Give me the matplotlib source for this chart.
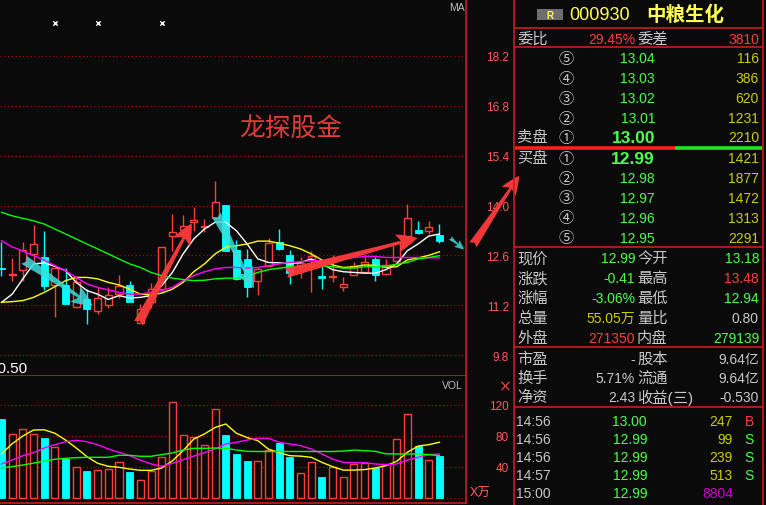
import numpy as np
import matplotlib.pyplot as plt
from matplotlib.patches import Rectangle, FancyArrowPatch

plt.rcParams['font.family'] = ['Liberation Sans', 'Noto Sans CJK SC', 'DejaVu Sans']

# ======================
# K线 (开 高 低 收)
# ======================
opens = [12.24, 12.04, 12.18, 12.63, 12.55, 11.77, 11.77, 11.14, 11.37, 11.05,
         11.21, 11.51, 11.77, 10.70, 11.28, 11.65, 13.14, 13.30, 13.55, 13.41,
         13.64, 14.01, 12.75, 12.50, 11.89, 12.29, 12.98, 12.61, 12.29, 12.48,
         12.03, 12.00, 11.72, 12.06, 12.14, 12.50, 12.08, 12.45, 13.14, 13.31,
         13.28, 13.18]
highs = [12.98, 12.52, 12.98, 13.45, 13.29, 12.24, 12.24, 12.03, 11.65, 11.70,
         11.70, 12.06, 11.89, 11.23, 11.82, 12.83, 13.76, 13.74, 13.95, 13.62,
         14.70, 14.01, 13.03, 12.78, 12.27, 13.08, 13.34, 12.75, 12.55, 12.73,
         12.29, 12.61, 11.98, 12.40, 12.64, 12.55, 12.50, 13.01, 14.04, 13.56,
         13.56, 13.48]
lows = [12.03, 11.89, 11.89, 12.40, 11.64, 10.86, 11.23, 11.14, 10.67, 10.96,
        11.11, 11.39, 11.30, 10.70, 11.11, 11.55, 12.73, 13.20, 13.29, 13.25,
        13.64, 12.73, 11.90, 11.42, 11.50, 12.29, 12.74, 11.80, 11.95, 11.58,
        11.65, 11.84, 11.61, 12.06, 12.14, 11.89, 12.06, 12.40, 13.14, 13.20,
        13.20, 12.94]
closes = [12.21, 12.08, 12.74, 12.91, 11.75, 12.24, 11.23, 11.86, 11.09, 11.40,
          11.49, 11.73, 11.30, 11.09, 11.65, 12.83, 13.27, 13.42, 13.59, 13.43,
          14.11, 12.73, 11.94, 11.70, 12.22, 12.95, 12.78, 12.10, 12.39, 12.57,
          11.96, 12.02, 11.80, 12.31, 12.40, 12.06, 12.34, 12.95, 13.64, 13.23,
          13.39, 12.99]

# 均线
ma5 = [11.28, 11.51, 11.94, 12.36, 12.39, 12.29, 12.17, 11.84, 11.61, 11.51,
       11.36, 11.47, 11.40, 11.42, 11.47, 11.75, 12.12, 12.64, 13.06, 13.34,
       13.53, 13.53, 13.29, 12.92, 12.50, 12.40, 12.39, 12.36, 12.40, 12.50,
       12.36, 12.20, 12.14, 12.12, 12.10, 12.10, 12.20, 12.36, 12.73, 12.92,
       13.14, 13.20]
ma10 = [11.28, 11.30, 11.33, 11.42, 11.56, 11.72, 11.89, 11.98, 11.98, 11.94,
        11.84, 11.77, 11.65, 11.51, 11.49, 11.54, 11.65, 11.84, 12.14, 12.36,
        12.64, 12.83, 12.87, 12.92, 13.00, 13.00, 12.94, 12.87, 12.78, 12.64,
        12.47, 12.33, 12.26, 12.28, 12.33, 12.32, 12.26, 12.28, 12.47, 12.53,
        12.60, 12.70]
ma20 = [13.01, 12.84, 12.72, 12.59, 12.47, 12.31, 12.17, 11.98, 11.80, 11.70,
        11.63, 11.56, 11.51, 11.51, 11.56, 11.61, 11.70, 11.89, 12.03, 12.14,
        12.22, 12.26, 12.26, 12.24, 12.26, 12.31, 12.36, 12.40, 12.42, 12.45,
        12.45, 12.45, 12.50, 12.54, 12.57, 12.57, 12.54, 12.54, 12.54, 12.54,
        12.53, 12.53]
ma60 = [13.81, 13.71, 13.64, 13.57, 13.48, 13.34, 13.20, 13.06, 12.92, 12.78,
        12.64, 12.50, 12.36, 12.26, 12.12, 12.03, 11.96, 11.92, 11.89, 11.90,
        11.94, 11.96, 11.96, 12.00, 12.12, 12.20, 12.24, 12.28, 12.28, 12.30,
        12.30, 12.28, 12.24, 12.24, 12.28, 12.28, 12.30, 12.35, 12.40, 12.50,
        12.54, 12.59]

# ======================
# 成交量 (万手)
# ======================
volumes = [102, 82, 88.6, 82, 77.4, 65.4, 50.3, 39.6, 34.8, 35.7,
           37, 46, 33.5, 22.8, 34.8, 52.5, 123.5, 80.9, 78.3, 68,
           114.4, 81.3, 56.8, 47.7, 47.3, 61.5, 71.4, 52.9, 32.3, 46,
           27.1, 40, 26.7, 43.9, 44.8, 38.7, 43.4, 75.7, 108, 67.5,
           48.6, 54.2]
vol_ma5 = [56.8, 70, 80, 87.7, 88, 83.5, 74.8, 64.5, 53.3, 44.8,
           40.9, 39.6, 37.4, 35.7, 35.7, 38.7, 48, 61, 76, 82.6,
           91, 95.5, 83.5, 78, 74, 63, 58.5, 54.6, 54, 52.5,
           46, 40.4, 36, 36, 36.7, 38.7, 41.7, 47.3, 59, 67,
           68.8, 71.9]
vol_ma10 = [43.9, 49, 54.6, 58.5, 64.5, 68.8, 72.6, 74.4, 72.6, 68.8,
            63.2, 59, 54.6, 49, 43.9, 40.9, 44.8, 49.4, 54, 58.5,
            63.2, 69.7, 71.9, 74.8, 77, 77, 71.9, 69.7, 67.5, 63.2,
            56.8, 50.3, 46, 45.6, 45.6, 43.9, 43, 43.9, 49, 52.5,
            55.9, 56.8]
vol_ma20 = [38.7, 40.5, 42.5, 45, 47.5, 50, 51.2, 52, 52.5, 52.5,
            52.5, 55.1, 55.1, 53.8, 53.8, 56, 58.1, 61.9, 64.1, 64.1,
            64.5, 64, 61.9, 60.2, 60, 60, 60, 60, 60, 60,
            60, 60, 60.5, 61.9, 61, 60.2, 57, 56.8, 56.8, 56.8,
            55.9, 54.6]

price_ticks = [9.8, 11.2, 12.6, 14.0, 15.4, 16.8, 18.2]
vol_ticks = [0, 40, 80, 120]

# 标记 / 箭头 (K线序号, 价格)
mark_idx = [5, 9, 15]
mark_price = 19.13
red_arrows = [((12.69, 10.62), (17.93, 13.57), 20),
              ((26.39, 12.08), (39.19, 13.11), 20),
              ((44.0, 12.83), (48.6, 14.90), 18)]
cyan_arrows = [((1.89, 12.52), (8.75, 11.14), 20),
               ((19.99, 13.81), (23.74, 11.61), 20),
               ((41.8, 13.14), (43.49, 12.72), 9)]

# ======================
# 盘口数据
# ======================
stock_code = '000930'
stock_name = '中粮生化'
wb_ratio = '29.45%'
wb_diff = '3810'
circled = ['⑤', '④', '③', '②', '①']
ask_prices = ['13.04', '13.03', '13.02', '13.01', '13.00']
ask_vols = ['116', '386', '620', '1231', '2210']
bid_prices = ['12.99', '12.98', '12.97', '12.96', '12.95']
bid_vols = ['1421', '1877', '1472', '1313', '2291']

quote_l_names = ['现价', '涨跌', '涨幅', '总量', '外盘']
quote_l_vals = ['12.99', '-0.41', '-3.06%', '55.05万', '271350']
quote_r_names = ['今开', '最高', '最低', '量比', '内盘']
quote_r_vals = ['13.18', '13.48', '12.94', '0.80', '279139']

fund_l_names = ['市盈', '换手', '净资']
fund_l_vals = ['-', '5.71%', '2.43']
fund_r_names = ['股本', '流通', '收益(三)']
fund_r_vals = ['9.64亿', '9.64亿', '-0.530']

tick_times = ['14:56', '14:56', '14:56', '14:57', '15:00']
tick_prices = ['13.00', '12.99', '12.99', '12.99', '12.99']
tick_vols = ['247', '99', '239', '513', '8804']
tick_flags = ['B', 'S', 'S', 'S', '']

# ======================
# 颜色
# ======================
BG = '#0a0a0a'
RED = '#ff3c3c'
CYAN = '#00ffff'
GRID = '#b40000'
FRAME = '#c81e1e'
GRAY = '#c8c8c8'
GREEN = '#4cff4c'
OLIVE = '#cccc00'
AXRED = '#ff5a5a'

W, H = 766, 506
fig = plt.figure(figsize=(W / 100, H / 100), dpi=100, facecolor=BG)

ax = fig.add_axes([0, 129 / H, 466 / W, 377 / H], facecolor=BG)
axv = fig.add_axes([0, 2 / H, 466 / W, 127 / H], facecolor=BG)

x = np.arange(len(opens))
bw = 0.66

# ---- K线 ----
for i in x:
    o, h, l, c = opens[i], highs[i], lows[i], closes[i]
    if c >= o:
        ax.vlines(i, max(o, c), h, color=RED, lw=1)
        ax.vlines(i, l, min(o, c), color=RED, lw=1)
        ax.add_patch(Rectangle((i - bw / 2, o), bw, max(c - o, 0.02),
                               facecolor=BG, edgecolor=RED, lw=1, zorder=3))
    else:
        ax.vlines(i, l, h, color=CYAN, lw=1)
        ax.add_patch(Rectangle((i - bw / 2, c), bw, max(o - c, 0.03),
                               facecolor=CYAN, edgecolor=CYAN, lw=0.6, zorder=3))

ax.plot(x, ma5, color='white', lw=1, zorder=4)
ax.plot(x, ma10, color='#ffff00', lw=1, zorder=4)
ax.plot(x, ma20, color='#ff00ff', lw=1, zorder=4)
ax.plot(x, ma60, color='#00ff00', lw=1, zorder=4)

ax.scatter(mark_idx, [mark_price] * len(mark_idx), marker='x', s=10,
           color='white', lw=1, zorder=5)

for (x0, y0), (x1, y1), ms in red_arrows:
    ax.add_patch(FancyArrowPatch((x0, y0), (x1, y1),
                                 arrowstyle='fancy,head_length=0.75,head_width=0.65,tail_width=0.35',
                                 mutation_scale=ms, color='#ff3a3a', alpha=0.95,
                                 lw=0, zorder=6, clip_on=False))
for (x0, y0), (x1, y1), ms in cyan_arrows:
    ax.add_patch(FancyArrowPatch((x0, y0), (x1, y1),
                                 arrowstyle='fancy,head_length=0.75,head_width=0.65,tail_width=0.35',
                                 mutation_scale=ms, color='#3cdcdc', alpha=0.85,
                                 lw=0, zorder=6, clip_on=False))

ax.set_xlim(-0.14, 43.49)
ax.set_ylim(9.211, 19.801)
ax.set_yticks(price_ticks)
ax.set_yticklabels([f'{v:.1f}' for v in price_ticks])
ax.grid(axis='y', color=GRID, linestyle=(0, (1, 2)), lw=0.9)
ax.set_axisbelow(True)

# ---- 成交量 ----
for i in x:
    if closes[i] >= opens[i]:
        axv.add_patch(Rectangle((i - bw / 2, 0), bw, volumes[i],
                                facecolor=BG, edgecolor=RED, lw=1, zorder=3))
    else:
        axv.add_patch(Rectangle((i - bw / 2, 0), bw, volumes[i],
                                facecolor=CYAN, edgecolor=CYAN, lw=0.6, zorder=3))

axv.plot(x, vol_ma5, color='#ffff00', lw=1, zorder=4)
axv.plot(x, vol_ma10, color='#ff00ff', lw=1, zorder=4)
axv.plot(x, vol_ma20, color='#00ff00', lw=1, zorder=4)

axv.set_xlim(-0.14, 43.49)
axv.set_ylim(-6.45, 157.4)
axv.set_yticks(vol_ticks)
axv.set_yticklabels(['' if v == 0 else str(v) for v in vol_ticks])
axv.grid(axis='y', color=GRID, linestyle=(0, (1, 2)), lw=0.9)
axv.set_axisbelow(True)

for a in (ax, axv):
    a.set_xticks([])
    a.yaxis.tick_right()
    a.tick_params(axis='y', length=0, pad=31, labelsize=8.5, labelcolor=AXRED)
    for t in a.get_yticklabels():
        t.set_horizontalalignment('right')
    for s in ('left', 'top'):
        a.spines[s].set_visible(False)
    for s in ('right', 'bottom'):
        a.spines[s].set_color(FRAME)
        a.spines[s].set_linewidth(1.2)

# ======================
# 覆盖层: 文字 + 盘口
# ======================
ov = fig.add_axes([0, 0, 1, 1])
ov.set_xlim(0, W)
ov.set_ylim(H, 0)
ov.axis('off')
ov.patch.set_alpha(0)

ov.text(465, 8, 'MA', color='#bdbdbd', fontsize=7.5, ha='right', va='center')
ov.text(463, 386, 'VOL', color='#bdbdbd', fontsize=7.5, ha='right', va='center')
ov.text(505, 387, '×', color=RED, fontsize=11, ha='center', va='center', family='DejaVu Sans')
ov.text(470, 494, 'X万', color=AXRED, fontsize=9, ha='left', va='center')
ov.text(28, 369, '10.50', color='white', fontsize=11, ha='right', va='center')
ov.text(239, 130, '龙探股金', color='#e03a3a', fontsize=18.5, ha='left', va='center',
        family=['Noto Sans CJK SC', 'DejaVu Sans'])

# 边框
ov.vlines([514, 763], 0, H, color=FRAME, lw=1.2)
ov.hlines([29, 48, 248, 348, 408], 514, 763, color=FRAME, lw=1.2)
ov.hlines(149, 515, 675, color='#ff1e1e', lw=2.6)
ov.hlines(149, 675, 762, color='#1ee61e', lw=2.6)

# 标题
ov.add_patch(Rectangle((537, 10), 26, 11, facecolor='#6e6e6e', edgecolor='none'))
ov.text(550, 15.5, 'R', color='#ffff50', fontsize=7, ha='center', va='center', weight='bold')
ov.text(569, 15, stock_code, color='#ffff50', fontsize=13, ha='left', va='center')
ov.text(646, 15, stock_name, color='#ffff50', fontsize=14, ha='left', va='center', weight='bold')

CN = 11
NUM = 10
ov.text(517, 40, '委比', color=GRAY, fontsize=CN, va='center')
ov.text(635, 40, wb_ratio, color=RED, fontsize=NUM, ha='right', va='center')
ov.text(637, 40, '委差', color=GRAY, fontsize=CN, va='center')
ov.text(759, 40, wb_diff, color=RED, fontsize=NUM, ha='right', va='center')

# 卖盘
ask_y = [59, 79, 99, 119, 138]
for k, yy in enumerate(ask_y):
    ov.text(566, yy, circled[k], color=GRAY, fontsize=11, ha='center', va='center',
            family=['Noto Sans CJK SC', 'DejaVu Sans'])
    big = k == 4
    ov.text(655, yy, ask_prices[k], color=GREEN, fontsize=12.5 if big else NUM,
            weight='bold' if big else 'normal', ha='right', va='center')
    ov.text(759, yy, ask_vols[k], color=OLIVE, fontsize=NUM, ha='right', va='center')
ov.text(517, 138, '卖盘', color=GRAY, fontsize=CN, va='center')

# 买盘
bid_y = [159, 179, 199, 219, 239]
for k, yy in enumerate(bid_y):
    ov.text(566, yy, circled[4 - k], color=GRAY, fontsize=11, ha='center', va='center',
            family=['Noto Sans CJK SC', 'DejaVu Sans'])
    big = k == 0
    ov.text(655, yy, bid_prices[k], color=GREEN, fontsize=12.5 if big else NUM,
            weight='bold' if big else 'normal', ha='right', va='center')
    ov.text(759, yy, bid_vols[k], color=OLIVE, fontsize=NUM, ha='right', va='center')
ov.text(517, 159, '买盘', color=GRAY, fontsize=CN, va='center')

# 行情
ql_colors = [GREEN, GREEN, GREEN, OLIVE, RED]
qr_colors = [GREEN, RED, GREEN, GRAY, GREEN]
quote_y = [259, 279, 299, 319, 339]
for k, yy in enumerate(quote_y):
    ov.text(517, yy, quote_l_names[k], color=GRAY, fontsize=CN, va='center')
    ov.text(635, yy, quote_l_vals[k], color=ql_colors[k], fontsize=NUM, ha='right', va='center')
    ov.text(637, yy, quote_r_names[k], color=GRAY, fontsize=CN, va='center')
    ov.text(759, yy, quote_r_vals[k], color=qr_colors[k], fontsize=NUM, ha='right', va='center')

fund_y = [360, 379, 398]
for k, yy in enumerate(fund_y):
    ov.text(517, yy, fund_l_names[k], color=GRAY, fontsize=CN, va='center')
    ov.text(635, yy, fund_l_vals[k], color=GRAY, fontsize=NUM, ha='right', va='center')
    ov.text(637, yy, fund_r_names[k], color=GRAY, fontsize=CN, va='center')
    ov.text(759, yy, fund_r_vals[k], color=GRAY, fontsize=NUM, ha='right', va='center')

# 分笔
tick_y = [422, 440, 458, 476, 494]
for k, yy in enumerate(tick_y):
    ov.text(516, yy, tick_times[k], color=GRAY, fontsize=NUM, ha='left', va='center')
    ov.text(647, yy, tick_prices[k], color=GREEN, fontsize=NUM, ha='right', va='center')
    vc = '#cc00cc' if tick_flags[k] == '' else OLIVE
    ov.text(733, yy, tick_vols[k], color=vc, fontsize=NUM, ha='right', va='center')
    fc = RED if tick_flags[k] == 'B' else GREEN
    ov.text(749, yy, tick_flags[k], color=fc, fontsize=NUM, ha='center', va='center')

fig.savefig('out.png', dpi=100, facecolor=BG)
